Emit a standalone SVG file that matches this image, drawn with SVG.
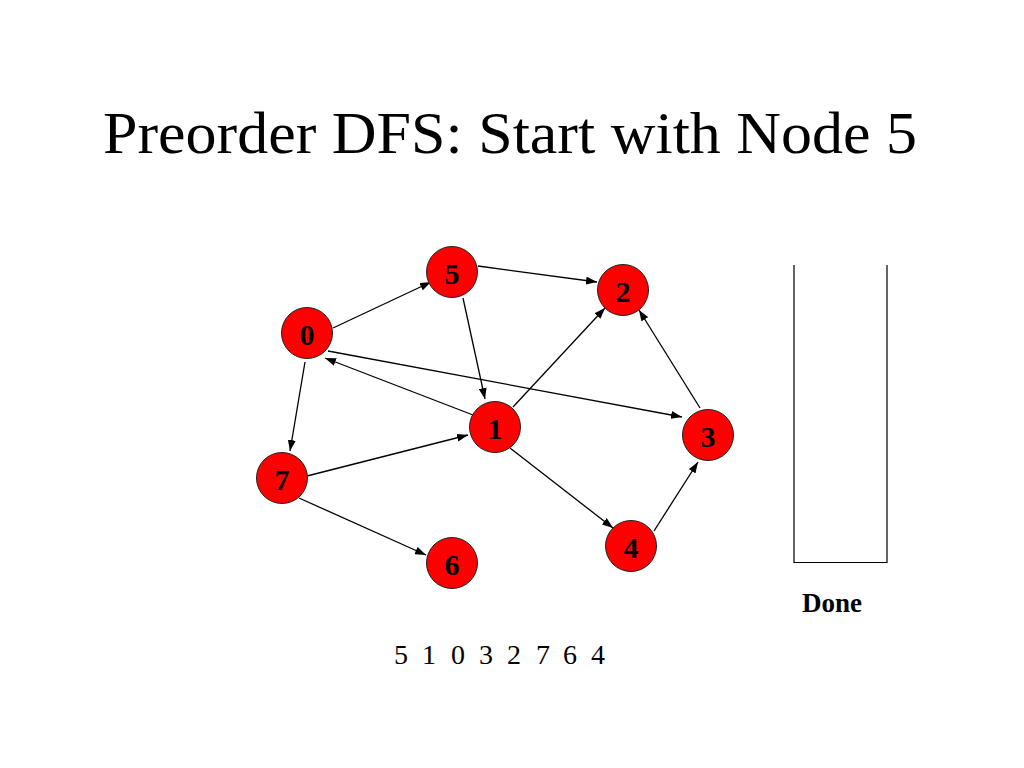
<svg xmlns="http://www.w3.org/2000/svg" width="1024" height="768" viewBox="0 0 1024 768">
<style>
.node circle{fill:#ff0000;stroke:#222;stroke-width:1}
.node text{font-family:"Liberation Serif","Times New Roman",serif;font-weight:bold;font-size:30px;text-anchor:middle;fill:#000}
.edge{stroke:#000;stroke-width:1.3;fill:none;marker-end:url(#arr)}
.title{font-family:"Liberation Serif","Times New Roman",serif;font-size:59px;fill:#000}
.seq{font-family:"Liberation Serif","Times New Roman",serif;font-size:28px;fill:#000;text-anchor:middle}
</style>
<defs>
<marker id="arr" markerUnits="userSpaceOnUse" markerWidth="11" markerHeight="8" refX="11" refY="4" orient="auto">
<path d="M0,0 L11,4 L0,8 z" fill="#000"/>
</marker>
</defs>
<rect width="1024" height="768" fill="#fff"/>
<text class="title" x="103" y="153" textLength="814" lengthAdjust="spacingAndGlyphs">Preorder DFS: Start with Node 5</text>
<g id="connectors">
<line class="edge" x1="333" y1="328" x2="431" y2="282"/>
<line class="edge" x1="478" y1="266" x2="597" y2="282"/>
<line class="edge" x1="463" y1="298" x2="485" y2="399"/>
<line class="edge" x1="473" y1="415" x2="325" y2="358"/>
<line class="edge" x1="328" y1="351" x2="682" y2="417"/>
<line class="edge" x1="513" y1="407" x2="605" y2="308"/>
<line class="edge" x1="700" y1="408" x2="639" y2="310"/>
<line class="edge" x1="305" y1="362" x2="290" y2="451"/>
<line class="edge" x1="307" y1="476" x2="468" y2="435"/>
<line class="edge" x1="299" y1="498" x2="426" y2="555"/>
<line class="edge" x1="510" y1="448" x2="613" y2="528"/>
<line class="edge" x1="654" y1="531" x2="698" y2="462"/>
</g>
<g id="node5" class="node"><circle cx="452" cy="272" r="25.5"/><text x="452" y="284">5</text></g>
<g id="node0" class="node"><circle cx="307" cy="333" r="25.5"/><text x="307" y="345">0</text></g>
<g id="node2" class="node"><circle cx="623" cy="290" r="25.5"/><text x="623" y="302">2</text></g>
<g id="node1" class="node"><circle cx="495" cy="427" r="25.5"/><text x="495" y="439">1</text></g>
<g id="node3" class="node"><circle cx="708" cy="435" r="25.5"/><text x="708" y="447">3</text></g>
<g id="node4" class="node"><circle cx="631" cy="546" r="25.5"/><text x="631" y="558">4</text></g>
<g id="node7" class="node"><circle cx="282" cy="478" r="25.5"/><text x="282" y="490">7</text></g>
<g id="node6" class="node"><circle cx="452" cy="563" r="25.5"/><text x="452" y="575">6</text></g>
<g id="stack">
<path d="M794,265 V562.5 H887 V265" fill="none" stroke="#000" stroke-width="1.2"/>
<text x="832" y="612" font-family="Liberation Serif,Times New Roman,serif" font-weight="bold" font-size="27" text-anchor="middle">Done</text>
</g>
<g id="sequence" class="seq">
<text x="401" y="664">5</text><text x="429" y="664">1</text><text x="458" y="664">0</text><text x="486" y="664">3</text><text x="514" y="664">2</text><text x="543" y="664">7</text><text x="570" y="664">6</text><text x="598" y="664">4</text>
</g>
</svg>
